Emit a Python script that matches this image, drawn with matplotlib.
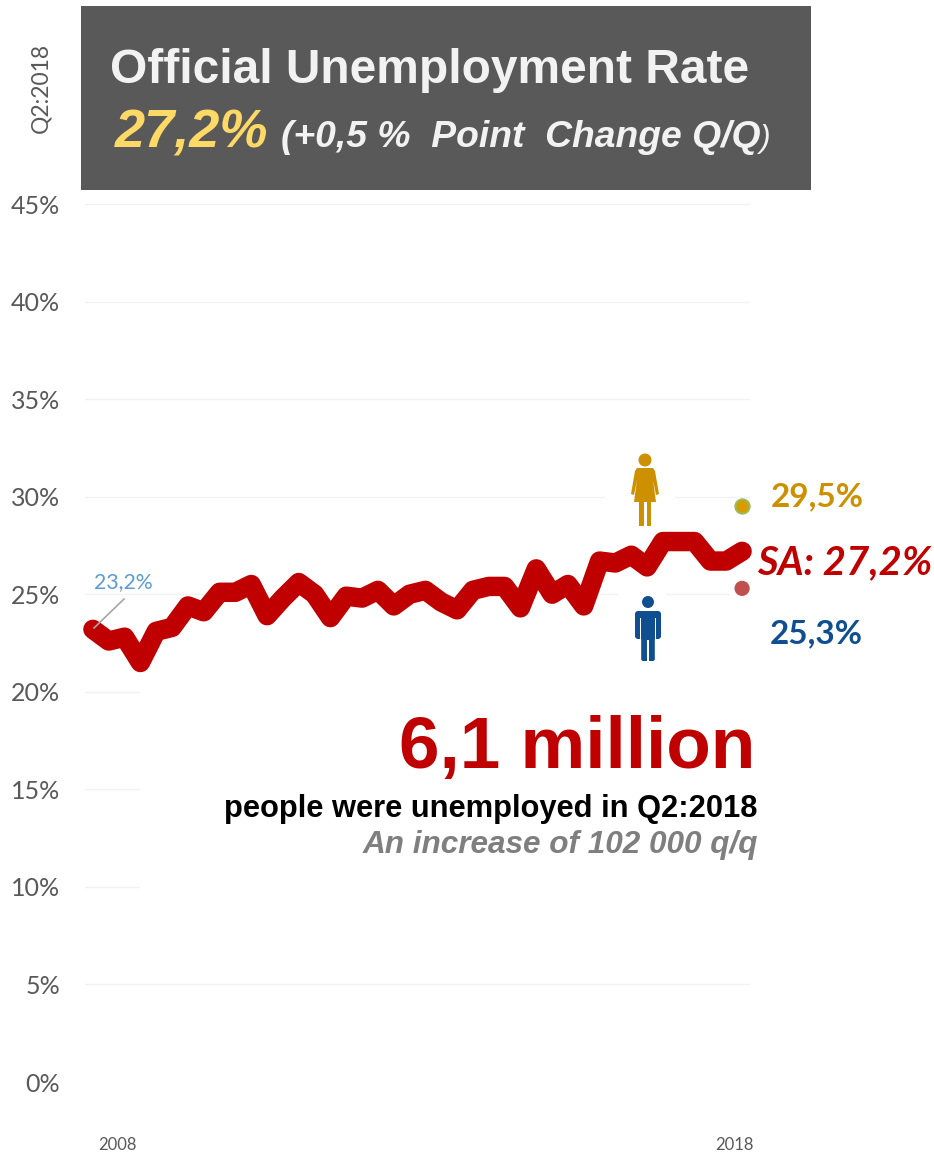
import matplotlib
matplotlib.use('Agg')
import matplotlib.pyplot as plt
from matplotlib.patches import Rectangle, Circle, Polygon, FancyBboxPatch

W, H = 934, 1152

rate = [23.2, 22.6, 22.8, 21.5, 23.1, 23.3, 24.4, 24.1, 25.1, 25.1, 25.5, 23.9, 24.8, 25.6,
        25.0, 23.8, 24.9, 24.8, 25.2, 24.4, 25.0, 25.2, 24.6, 24.2, 25.2, 25.4, 25.4, 24.3,
        26.3, 25.0, 25.5, 24.4, 26.7, 26.6, 27.0, 26.4, 27.7, 27.7, 27.7, 26.7, 26.7, 27.2]
female_rate = 29.5
male_rate = 25.3
y_ticks = [0, 5, 10, 15, 20, 25, 30, 35, 40, 45]
y_labels = ['0%', '5%', '10%', '15%', '20%', '25%', '30%', '35%', '40%', '45%']

RED = '#c00000'
GOLD = '#cc9000'
BLUE = '#0f4f8f'
GREY = '#595959'
SANS = 'Liberation Sans'
CAL = 'Lato'

fig = plt.figure(figsize=(W / 100, H / 100), dpi=100, facecolor='white')

# overlay in picture pixels, for the header, text and icons
ov = fig.add_axes([0, 0, 1, 1], zorder=5)
ov.set_xlim(0, W)
ov.set_ylim(H, 0)
ov.axis('off')

ax = fig.add_axes([85 / W, 1 - 1082 / H, 665 / W, 878 / H], zorder=1)
ax.set_xlim(-0.5, 41.5)
ax.set_ylim(0, 45)
for s in ax.spines.values():
    s.set_visible(False)
ax.set_xticks([])
ax.set_yticks(y_ticks)
ax.set_yticklabels(y_labels, fontfamily=CAL, fontsize=18, color=GREY)
ax.tick_params(axis='y', length=0, pad=18)
for v in y_ticks[1:]:
    ax.axhline(v, color='#f2f2f2', lw=1, zorder=1)

# white boxes behind the text and icons break the gridlines
for x0, y0, x1, y1 in [(140, 680, 760, 892), (205, 585, 593, 603), (618, 585, 666, 603),
                       (605, 490, 675, 504), (730, 585, 760, 603)]:
    ax.add_patch(Rectangle((x0, y0), x1 - x0, y1 - y0, transform=ov.transData, fc='white',
                           ec='none', zorder=2, clip_on=False))

ax.plot(range(len(rate)), rate, color=RED, lw=14, solid_capstyle='round',
        solid_joinstyle='round', zorder=3, clip_on=False)
ax.scatter([41], [female_rate], s=105, color='#d89b00', edgecolor='#9bbb59', lw=1.5, zorder=4,
           clip_on=False)
ax.scatter([41], [male_rate], s=120, color='#c0504d', edgecolor='none', zorder=4, clip_on=False)

# header
ov.add_patch(Rectangle((81, 6), 730, 184, fc=GREY, ec='none'))
ov.text(110, 83, 'Official Unemployment Rate', family=SANS, weight='bold', fontsize=34.5,
        color='#f2f2f2', va='baseline')
ov.text(115, 147, '27,2%', family=SANS, weight='bold', style='italic', fontsize=39,
        color='#ffd966', va='baseline')
ov.text(281, 147, '(+0,5 %  Point  Change Q/Q', family=SANS, weight='bold', style='italic',
        fontsize=26.8, color='#f2f2f2', va='baseline')
ov.text(759, 147, ')', family=SANS, style='italic', fontsize=23, color='#f2f2f2', va='baseline')
ov.text(41, 88, 'Q2:2018', family=CAL, fontsize=16.5, color=GREY, rotation=90, ha='center',
        va='center')

# callouts
ov.plot([94, 124], [628, 599], color='#a6a6a6', lw=1.2)
ov.text(94, 582, '23,2%', family=CAL, fontsize=15.3, color='#5b9bd5', va='center')
ov.text(771, 497, '29,5%', family=CAL, weight='bold', fontsize=24, color=GOLD, va='center')
ov.text(757, 563, 'SA: 27,2%', family=CAL, weight='bold', style='italic', fontsize=28.8, color=RED,
        va='center')
ov.text(770, 634, '25,3%', family=CAL, weight='bold', fontsize=24, color=BLUE, va='center')

ov.text(755, 768, '6,1 million', family=SANS, weight='bold', fontsize=52.5, color=RED, ha='right',
        va='baseline')
ov.text(757, 817, 'people were unemployed in Q2:2018', family=SANS, weight='bold', fontsize=22.2,
        color='black', ha='right', va='baseline')
ov.text(758, 853, 'An increase of 102 000 q/q', family=SANS, weight='bold', style='italic',
        fontsize=22.7, color='#7f7f7f', ha='right', va='baseline')

ov.text(117, 1145, '2008', family=CAL, fontsize=12, color=GREY, ha='center', va='center')
ov.text(734, 1145, '2018', family=CAL, fontsize=12, color=GREY, ha='center', va='center')


def woman(cx, top, color):
    ov.add_patch(Circle((cx, top + 6), 6.5, fc=color, ec='none'))
    ov.add_patch(Polygon([(cx - 8, top + 14), (cx + 8, top + 14), (cx + 10, top + 17),
                          (cx + 14, top + 40), (cx + 11, top + 41), (cx + 8, top + 26),
                          (cx + 11, top + 48), (cx - 11, top + 48), (cx - 8, top + 26),
                          (cx - 11, top + 41), (cx - 14, top + 40), (cx - 10, top + 17)],
                         closed=True, fc=color, ec='none'))
    ov.add_patch(Rectangle((cx - 6, top + 48), 4.5, 24, fc=color, ec='none'))
    ov.add_patch(Rectangle((cx + 1.5, top + 48), 4.5, 24, fc=color, ec='none'))


def man(cx, top, color):
    ov.add_patch(Circle((cx, top + 6), 6, fc=color, ec='none'))
    ov.add_patch(FancyBboxPatch((cx - 13, top + 15), 26, 28, boxstyle='round,pad=0,rounding_size=3',
                                fc=color, ec='none'))
    ov.add_patch(Rectangle((cx - 8, top + 22), 1.4, 22, fc='white', ec='none'))
    ov.add_patch(Rectangle((cx + 6.6, top + 22), 1.4, 22, fc='white', ec='none'))
    ov.add_patch(FancyBboxPatch((cx - 6.8, top + 35), 13.6, 30, boxstyle='round,pad=0,rounding_size=2',
                                fc=color, ec='none'))
    ov.add_patch(Rectangle((cx - 0.7, top + 44), 1.4, 22, fc='white', ec='none'))


woman(645, 454, GOLD)
man(648, 596, BLUE)

fig.savefig('out.png', dpi=100)
